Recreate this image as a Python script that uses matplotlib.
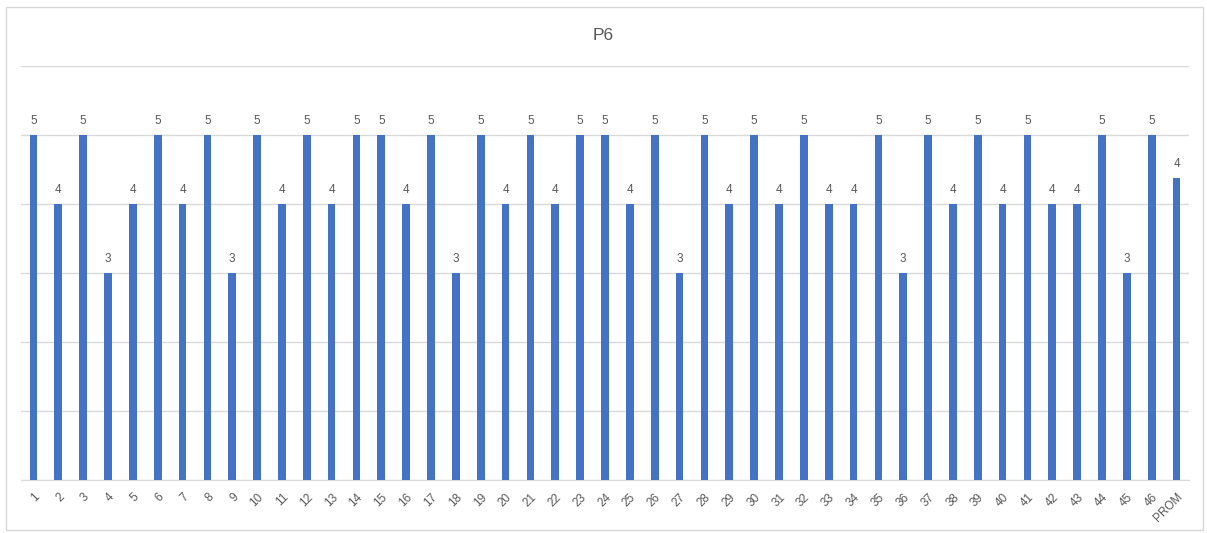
import matplotlib
matplotlib.use("Agg")
import matplotlib.pyplot as plt
from matplotlib.patches import Rectangle

categories = [str(i) for i in range(1, 47)] + ["PROM"]
scores = [5, 4, 5, 3, 4, 5, 4, 5, 3, 5, 4, 5, 4, 5, 5, 4, 5, 3, 5, 4, 5, 4, 5,
          5, 4, 5, 3, 5, 4, 5, 4, 5, 4, 4, 5, 3, 5, 4, 5, 4, 5, 4, 4, 5, 3, 5]
prom = 4.37
values = scores + [prom]

plt.rcParams["font.family"] = ["Liberation Sans", "DejaVu Sans"]
text_color = "#595959"
bar_color = "#4472C4"
grid_color = "#D9D9D9"

fig = plt.figure(figsize=(12.07, 5.33), dpi=100)
fig.patches.append(Rectangle((6 / 1207, 3 / 533), 1197 / 1207, 523 / 533,
                             transform=fig.transFigure, fill=False,
                             edgecolor="#D9D9D9", linewidth=1.0))

ax = fig.add_axes([21 / 1207, 1 - 480 / 533, 1168 / 1207, 414 / 533])
x = list(range(len(categories)))
bars = ax.bar(x, values, width=0.31, color=bar_color, zorder=3)

for xi, v in zip(x, values):
    ax.text(xi, v + 0.12, f"{v:.0f}", ha="center", va="bottom",
            fontsize=8.5, color=text_color)

ax.set_xlim(-0.5, len(categories) - 0.5)
ax.set_ylim(0, 6)
ax.set_yticks(range(0, 7))
ax.yaxis.grid(True, color=grid_color, linewidth=1.0, zorder=0)
ax.tick_params(axis="y", left=False, labelleft=False)
ax.set_xticks(x)
ax.set_xticklabels(categories, rotation=45, ha="right",
                   rotation_mode="anchor", fontsize=8.5, color=text_color)
ax.tick_params(axis="x", length=0, pad=8)
for side in ("top", "right", "left"):
    ax.spines[side].set_visible(False)
ax.spines["bottom"].set_color(grid_color)

fig.text(603 / 1207, 1 - 35 / 533, "P6", ha="center", va="center",
         fontsize=12.5, color=text_color)

fig.savefig("out.png", dpi=100)
